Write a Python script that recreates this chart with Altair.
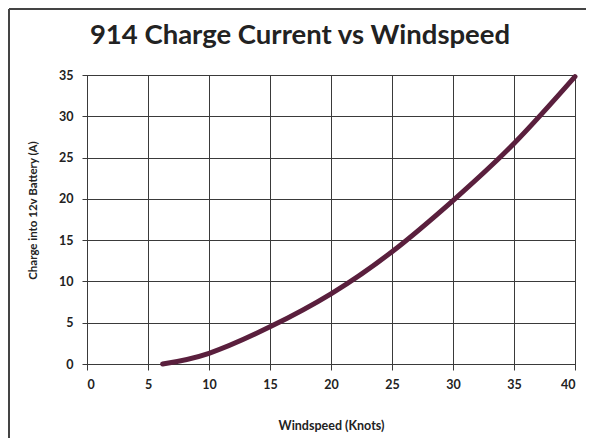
import altair as alt
import pandas as pd

windspeed = [6.2, 10, 15, 20, 25, 30, 35, 40]
charge = [0.0, 1.3, 4.5, 8.5, 13.6, 19.8, 26.7, 34.8]

x_ticks = [0, 5, 10, 15, 20, 25, 30, 35, 40]
y_ticks = [0, 5, 10, 15, 20, 25, 30, 35]

df = pd.DataFrame({"Windspeed": windspeed, "Charge": charge})

FONT = "Lato"
GRID = "#3a3a3a"

line = alt.Chart(df).mark_line(
    color="#5a1f3d", strokeWidth=5, interpolate="natural", strokeCap="round"
).encode(
    x=alt.X(
        "Windspeed:Q",
        scale=alt.Scale(domain=[0, 40], nice=False),
        axis=alt.Axis(
            values=x_ticks,
            title="Windspeed (Knots)",
            grid=True,
            gridColor=GRID,
            gridWidth=1,
            domainColor=GRID,
            tickColor=GRID,
            tickSize=6,
            labelPadding=8,
            labelFont=FONT,
            labelFontSize=12.5,
            labelFontWeight="bold",
            labelColor="#222",
            titleFont=FONT,
            titleFontSize=12.5,
            titleFontWeight="bold",
            titleColor="#222",
            titleBaseline="middle",
            titleY=61,
        ),
    ),
    y=alt.Y(
        "Charge:Q",
        scale=alt.Scale(domain=[0, 35], nice=False),
        axis=alt.Axis(
            values=y_ticks,
            title="Charge into 12v Battery (A)",
            grid=True,
            gridColor=GRID,
            gridWidth=1,
            domainColor=GRID,
            tickColor=GRID,
            tickSize=5,
            labelPadding=9,
            labelFont=FONT,
            labelFontSize=12.5,
            labelFontWeight="bold",
            labelColor="#222",
            titleFont=FONT,
            titleFontSize=11.5,
            titleFontWeight="bold",
            titleColor="#222",
            titleBaseline="middle",
            titleAlign="center",
            titleX=-54,
            titleY=135,
        ),
    ),
)

frame_left = alt.Chart(df).mark_rule(color="#444", strokeWidth=1.5).encode(
    x=alt.value(-78), y=alt.value(-66), y2=alt.value(380)
)
frame_top = alt.Chart(df).mark_rule(color="#444", strokeWidth=1.5).encode(
    x=alt.value(-78), x2=alt.value(520), y=alt.value(-66)
)

chart = alt.layer(frame_left, frame_top, line).properties(
    width=488,
    height=289,
    autosize=alt.AutoSizeParams(type="none"),
    padding={"left": 79, "top": 67, "right": 11, "bottom": 74},
    title=alt.TitleParams(
        "914 Charge Current vs Windspeed",
        font=FONT,
        fontSize=27.5,
        fontWeight="bold",
        color="#222",
        anchor="middle",
        dx=-31,
        dy=63,
        baseline="alphabetic",
        offset=0,
    ),
).configure_view(stroke=GRID, strokeWidth=1)

chart.save("out.html", embed_options={"renderer": "svg", "actions": False})
